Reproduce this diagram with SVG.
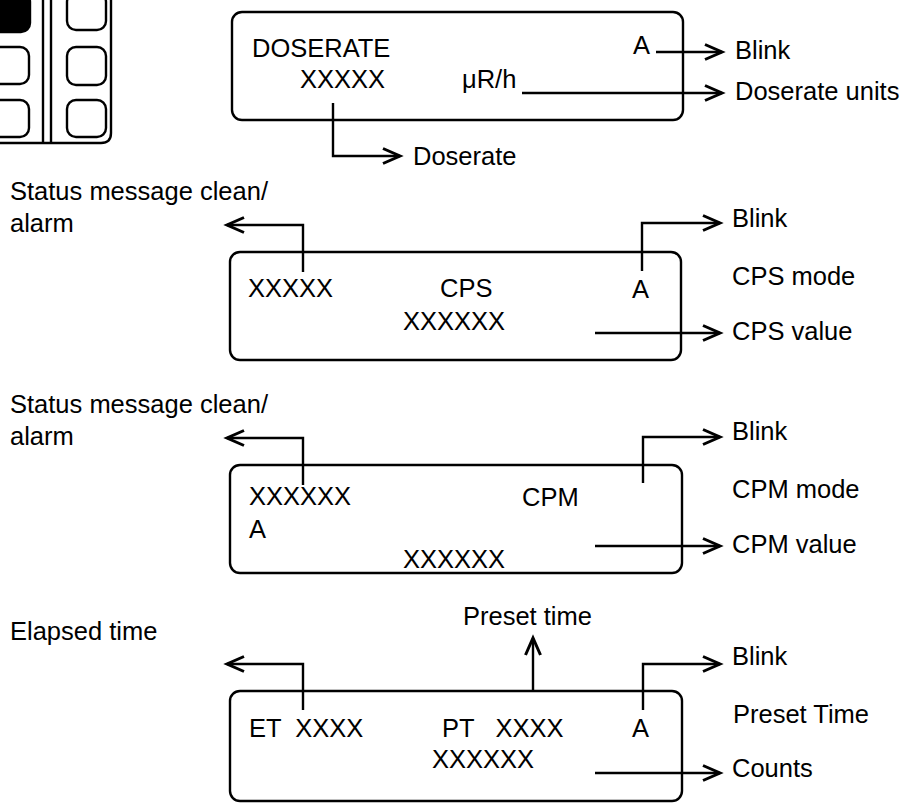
<svg xmlns="http://www.w3.org/2000/svg" width="906" height="803" viewBox="0 0 906 803">
<style>
text{font-family:"Liberation Sans",Arial,sans-serif;font-size:25.5px;fill:#000}
.box{fill:none;stroke:#000;stroke-width:2.4}
.btn{fill:none;stroke:#000;stroke-width:2.4}
.ln{fill:none;stroke:#000;stroke-width:2.4}
</style>
<defs>
<marker id="ah" markerUnits="userSpaceOnUse" markerWidth="24" markerHeight="20" refX="18" refY="10" orient="auto" overflow="visible">
<path d="M1,2.5 L18,10 L1,17.5" fill="none" stroke="#000" stroke-width="3"/>
</marker>
</defs>
<rect width="906" height="803" fill="#fff"/>

<g id="keypad">
<rect x="-9" y="-7" width="39" height="39" rx="9" fill="#000" stroke="#000" stroke-width="2.4"/>
<rect class="btn" x="-9" y="47" width="38" height="37" rx="9"/>
<rect class="btn" x="-9" y="100" width="38" height="37" rx="9"/>
<rect class="btn" x="67" y="-7" width="39" height="37" rx="9"/>
<rect class="btn" x="67" y="47" width="39" height="38" rx="9"/>
<rect class="btn" x="67" y="100" width="39" height="37" rx="9"/>
<line class="ln" x1="43" y1="-2" x2="43" y2="143"/>
<line class="ln" x1="51" y1="-2" x2="51" y2="143"/>
<path class="ln" d="M111,-2 V133 Q111,143 101,143 H-2"/>
</g>

<g id="doserate-display">
<rect class="box" x="232" y="12" width="451" height="108" rx="10"/>
<text x="252" y="57">DOSERATE</text>
<text x="300" y="88">XXXXX</text>
<text x="462" y="88">μR/h</text>
<text x="633" y="54">A</text>
</g>
<g id="doserate-labels">
<text x="735" y="59">Blink</text>
<text x="735" y="100">Doserate units</text>
<text x="413" y="165">Doserate</text>
</g>

<g id="cps-display">
<rect class="box" x="230" y="252" width="451" height="108" rx="10"/>
<text x="248" y="297">XXXXX</text>
<text x="440" y="297">CPS</text>
<text x="632" y="298">A</text>
<text x="403" y="330">XXXXXX</text>
</g>
<g id="cps-labels">
<text x="10" y="200">Status message clean/</text>
<text x="10" y="232">alarm</text>
<text x="732" y="227">Blink</text>
<text x="732" y="285">CPS mode</text>
<text x="732" y="340">CPS value</text>
</g>

<g id="cpm-display">
<rect class="box" x="230" y="465" width="452" height="108" rx="10"/>
<text x="249" y="505">XXXXXX</text>
<text x="522" y="506">CPM</text>
<text x="249" y="538">A</text>
<text x="403" y="568">XXXXXX</text>
</g>
<g id="cpm-labels">
<text x="10" y="413">Status message clean/</text>
<text x="10" y="445">alarm</text>
<text x="732" y="440">Blink</text>
<text x="732" y="498">CPM mode</text>
<text x="732" y="553">CPM value</text>
</g>

<g id="preset-display">
<rect class="box" x="230" y="691" width="452" height="110" rx="10"/>
<text x="249" y="737" style="white-space:pre">ET  XXXX</text>
<text x="442" y="737" style="white-space:pre">PT   XXXX</text>
<text x="632" y="737">A</text>
<text x="432" y="768">XXXXXX</text>
</g>
<g id="preset-labels">
<text x="10" y="640">Elapsed time</text>
<text x="463" y="625">Preset time</text>
<text x="732" y="665">Blink</text>
<text x="733" y="723">Preset Time</text>
<text x="732" y="777">Counts</text>
</g>

<g id="connectors">
<polyline class="ln" points="656,52 722,52" marker-end="url(#ah)"/>
<polyline class="ln" points="522,93 722,93" marker-end="url(#ah)"/>
<polyline class="ln" points="333,103 333,156 400,156" marker-end="url(#ah)"/>

<polyline class="ln" points="303,272 303,225 227,225" marker-end="url(#ah)"/>
<polyline class="ln" points="642,271 642,223 720,223" marker-end="url(#ah)"/>
<polyline class="ln" points="595,333 720,333" marker-end="url(#ah)"/>

<polyline class="ln" points="303,485 303,438 227,438" marker-end="url(#ah)"/>
<polyline class="ln" points="643,483 643,437 720,437" marker-end="url(#ah)"/>
<polyline class="ln" points="595,546 720,546" marker-end="url(#ah)"/>

<polyline class="ln" points="303,710 303,664 227,664" marker-end="url(#ah)"/>
<polyline class="ln" points="533,691 533,638" marker-end="url(#ah)"/>
<polyline class="ln" points="643,710 643,664 720,664" marker-end="url(#ah)"/>
<polyline class="ln" points="595,773 720,773" marker-end="url(#ah)"/>
</g>
</svg>
